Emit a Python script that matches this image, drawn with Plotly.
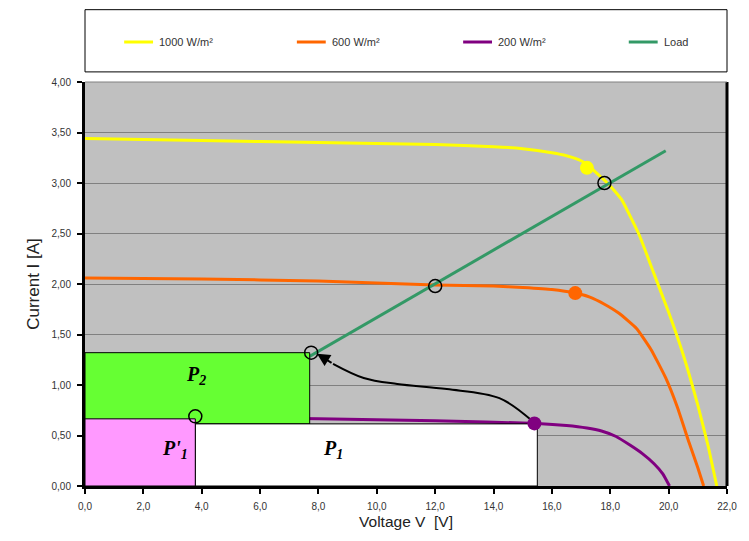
import plotly.graph_objects as go

# ---- data ----
v_1000 = [0.0, 4.0, 8.0, 12.0, 14.0, 15.0, 16.0, 16.5, 17.0, 17.3, 17.6, 17.9, 18.15, 18.4, 19.0, 19.5, 20.0, 20.5, 21.0, 21.35, 21.65]
i_1000 = [3.44, 3.42, 3.40, 3.38, 3.36, 3.34, 3.30, 3.27, 3.22, 3.16, 3.08, 3.00, 2.92, 2.83, 2.48, 2.10, 1.72, 1.30, 0.80, 0.40, 0.0]

v_600 = [0.0, 4.0, 8.0, 12.0, 14.0, 15.0, 16.0, 16.8, 17.3, 17.8, 18.3, 18.9, 19.4, 19.9, 20.3, 20.7, 21.0, 21.2]
i_600 = [2.06, 2.05, 2.03, 1.99, 1.98, 1.965, 1.945, 1.91, 1.87, 1.80, 1.71, 1.56, 1.35, 1.07, 0.78, 0.43, 0.18, 0.0]

v_200 = [0.0, 4.0, 8.0, 12.0, 15.5, 16.5, 17.2, 17.7, 18.2, 18.7, 19.1, 19.5, 19.8, 20.03]
i_200 = [0.69, 0.68, 0.665, 0.645, 0.62, 0.60, 0.575, 0.545, 0.49, 0.40, 0.32, 0.22, 0.12, 0.0]

v_load = [0.0, 19.9]
i_load = [0.0, 3.32]

series_names = ["1000 W/m²", "600 W/m²", "200 W/m²", "Load"]
series_colors = ["#ffff00", "#ff6600", "#800080", "#339966"]

# operating points (filled = MPP, open = load intersection)
mpp_v = [17.2, 16.8, 15.4]
mpp_i = [3.15, 1.91, 0.62]
mpp_colors = ["#ffff00", "#ff6600", "#800080"]
op_v = [17.8, 12.0, 7.75, 3.78]
op_i = [3.00, 1.98, 1.32, 0.69]

# power rectangles: [v0, v1, i0, i1]
rect_p2 = [0.0, 7.7, 0.615, 1.32]
rect_p1p = [0.0, 3.78, 0.0, 0.665]
rect_p1 = [3.78, 15.5, 0.0, 0.615]

# arrow path
arrow_v = [15.3, 14.2, 12.4, 10.7, 9.55, 8.5]
arrow_i = [0.65, 0.87, 0.96, 1.01, 1.07, 1.21]
arrow_head_v = 7.95
arrow_head_i = 1.31

x_ticks = [0, 2, 4, 6, 8, 10, 12, 14, 16, 18, 20, 22]
y_ticks = [0, 0.5, 1.0, 1.5, 2.0, 2.5, 3.0, 3.5, 4.0]

fig = go.Figure()

curves = [(v_1000, i_1000), (v_600, i_600), (v_200, i_200)]
for (vv, ii), nm, col in zip(curves, series_names[:3], series_colors[:3]):
    fig.add_trace(go.Scatter(x=vv, y=ii, mode="lines", name=nm, showlegend=False,
                             line=dict(color=col, width=3, shape="spline", smoothing=0.4)))
fig.add_trace(go.Scatter(x=v_load, y=i_load, mode="lines", name=series_names[3], showlegend=False,
                         line=dict(color=series_colors[3], width=3)))


def rect_trace(r, color):
    v0, v1, i0, i1 = r
    return go.Scatter(x=[v0, v1, v1, v0, v0], y=[i0, i0, i1, i1, i0], mode="lines",
                      fill="toself", fillcolor=color, line=dict(color="black", width=1),
                      showlegend=False, hoverinfo="skip")


fig.add_trace(rect_trace(rect_p2, "#66ff33"))
fig.add_trace(rect_trace(rect_p1, "#ffffff"))
fig.add_trace(rect_trace(rect_p1p, "#ff99ff"))

fig.add_trace(go.Scatter(x=arrow_v, y=arrow_i, mode="lines", showlegend=False,
                         line=dict(color="black", width=2, shape="spline"), hoverinfo="skip"))

fig.add_trace(go.Scatter(x=mpp_v, y=mpp_i, mode="markers", showlegend=False,
                         marker=dict(size=14, color=mpp_colors, line=dict(width=0))))
fig.add_trace(go.Scatter(x=op_v, y=op_i, mode="markers", showlegend=False,
                         marker=dict(size=13, color="rgba(0,0,0,0)",
                                     line=dict(color="black", width=1.5))))

fig.add_annotation(x=arrow_head_v, y=arrow_head_i, ax=arrow_v[-1], ay=arrow_i[-1],
                   xref="x", yref="y", axref="x", ayref="y", text="",
                   showarrow=True, arrowhead=2, arrowsize=1.3, arrowwidth=2, arrowcolor="black")

lab_font = dict(family="Liberation Serif, Times New Roman, serif", size=20, color="black")
fig.add_annotation(x=3.8, y=1.09, text="<b><i>P</i></b><sub><b><i>2</i></b></sub>",
                   showarrow=False, font=lab_font)
fig.add_annotation(x=3.1, y=0.36, text="<b><i>P'</i></b><sub><b><i>1</i></b></sub>",
                   showarrow=False, font=lab_font)
fig.add_annotation(x=8.5, y=0.36, text="<b><i>P</i></b><sub><b><i>1</i></b></sub>",
                   showarrow=False, font=lab_font)

# legend frame (manual legend)
fig.add_shape(type="rect", xref="paper", yref="paper", x0=0.0, x1=1.0, y0=1.025, y1=1.179,
              line=dict(color="black", width=1), fillcolor="white", layer="above")
leg_x = [0.061, 0.33, 0.589, 0.847]
leg_y = 1.099
for lx, nm, col in zip(leg_x, series_names, series_colors):
    fig.add_shape(type="line", xref="paper", yref="paper", x0=lx, x1=lx + 0.045,
                  y0=leg_y, y1=leg_y, line=dict(color=col, width=3), layer="above")
    fig.add_annotation(xref="paper", yref="paper", x=lx + 0.051, y=leg_y, text=nm,
                       showarrow=False, xanchor="left", yanchor="middle",
                       font=dict(size=11, color="#333333"))

fig.update_layout(
    width=741, height=533,
    margin=dict(l=77, r=16, t=74, b=48),
    paper_bgcolor="white",
    plot_bgcolor="#c0c0c0",
    separators=",.",
    font=dict(family="Liberation Sans, Arial, sans-serif", size=10, color="#333333"),
    showlegend=False,
    xaxis=dict(range=[0, 22], tickvals=x_ticks, tickformat=".1f", showgrid=False,
               zeroline=False, showline=True, linecolor="black", linewidth=3, mirror=False,
               ticks="outside", ticklen=5, tickwidth=2, tickcolor="black",
               ticklabelstandoff=4,
               title=dict(text="Voltage V  [V]", font=dict(size=15.5, color="#222222"), standoff=6)),
    yaxis=dict(range=[0, 4], tickvals=y_ticks, tickformat=".2f", showgrid=True,
               gridcolor="#808080", gridwidth=1, zeroline=False, showline=True,
               linecolor="black", linewidth=3, ticks="outside", ticklen=5, tickwidth=2,
               tickcolor="black", ticklabelstandoff=4,
               title=dict(text="Current I [A]", font=dict(size=17, color="#222222"), standoff=8)),
)

# right border and top border
fig.add_shape(type="line", xref="paper", yref="paper", x0=1, x1=1, y0=0, y1=1,
              line=dict(color="black", width=3))
fig.add_shape(type="line", xref="paper", yref="paper", x0=0, x1=1, y0=1, y1=1,
              line=dict(color="#808080", width=1))

fig.write_html("out.html")
